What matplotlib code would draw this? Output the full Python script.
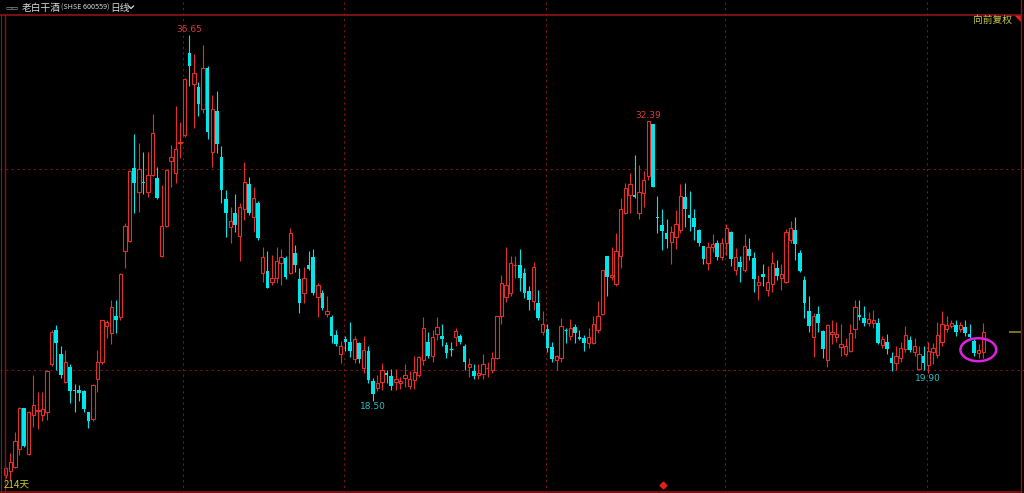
import matplotlib
matplotlib.use("Agg")
import matplotlib.pyplot as plt
from matplotlib.patches import Ellipse, Polygon
from matplotlib.lines import Line2D

plt.rcParams['font.family'] = ['Noto Sans CJK SC', 'DejaVu Sans']

# daily candles, 214 days (open, high, low, close)
opens = [14.81, 15.03, 15.22, 16.11, 18.12, 15.85, 17.77, 18.00, 17.77, 17.95,
         20.31, 22.00, 20.82, 19.41, 20.19, 19.05, 19.03, 19.00, 17.92, 17.58,
         19.56, 20.42, 22.21, 21.84, 22.72, 22.64, 25.94, 26.44, 30.05, 28.84,
         29.35, 28.84, 29.70, 29.55, 25.70, 27.18, 30.41, 29.82, 31.28, 31.67,
         35.74, 34.20, 34.05, 32.99, 35.03, 30.83, 32.88, 30.61, 28.50, 27.11,
         27.83, 26.67, 28.00, 29.24, 27.60, 28.33, 24.85, 24.95, 24.38, 24.58,
         25.35, 25.57, 24.85, 25.85, 24.52, 23.83, 25.24, 25.62, 23.66, 23.86,
         22.80, 22.67, 21.76, 20.82, 21.55, 21.43, 20.56, 21.35, 20.11, 20.98,
         19.49, 19.11, 19.44, 19.86, 19.73, 19.44, 19.36, 19.65, 19.23, 19.53,
         19.78, 20.52, 21.43, 20.72, 21.80, 21.71, 21.26, 21.07, 21.65, 21.73,
         21.22, 20.19, 19.97, 19.78, 19.83, 20.12, 20.02, 20.60, 22.70, 23.63,
         23.83, 25.22, 25.24, 24.83, 23.96, 23.45, 23.33, 21.92, 22.04, 21.15,
         20.52, 20.60, 21.99, 21.71, 22.14, 21.65, 21.60, 21.38, 21.38, 22.00,
         22.80, 25.69, 24.62, 24.28, 25.70, 27.80, 28.71, 28.71, 27.80, 28.79,
         29.65, 32.23, 27.62, 27.22, 26.84, 26.39, 26.64, 26.98, 28.60, 27.72,
         27.56, 26.97, 26.18, 25.32, 26.11, 26.31, 25.62, 26.31, 26.86, 24.99,
         25.40, 24.99, 26.01, 25.57, 24.24, 24.77, 23.99, 24.28, 25.07, 24.58,
         24.40, 26.47, 26.97, 25.85, 24.49, 22.97, 21.68, 22.80, 21.97, 20.52,
         21.80, 21.68, 21.18, 20.82, 20.98, 22.04, 22.75, 22.59, 22.34, 22.34,
         22.37, 21.26, 21.43, 20.60, 20.35, 20.60, 21.05, 21.51, 20.93, 20.06,
         20.72, 20.27, 20.93, 20.77, 21.43, 22.04, 22.21, 22.26, 22.04, 22.14,
         21.80, 21.48, 20.89, 20.93]
highs = [15.22, 15.89, 16.96, 18.20, 18.15, 17.97, 19.77, 18.95, 18.95, 20.00,
         22.00, 22.25, 21.22, 21.00, 20.30, 19.33, 19.27, 19.05, 17.92, 19.35,
         21.02, 22.52, 22.50, 23.50, 23.50, 24.83, 27.34, 29.95, 31.72, 31.27,
         30.84, 30.84, 32.73, 30.10, 29.20, 29.98, 31.19, 33.12, 32.35, 34.50,
         36.65, 35.71, 34.33, 36.15, 35.10, 33.67, 33.87, 31.14, 28.95, 28.10,
         28.76, 28.33, 30.36, 29.60, 29.12, 28.40, 26.11, 25.94, 25.73, 26.11,
         26.01, 25.68, 27.05, 26.25, 25.07, 25.12, 25.91, 26.01, 24.36, 24.00,
         23.70, 22.75, 22.00, 21.48, 21.70, 22.39, 21.70, 21.40, 21.71, 21.20,
         19.64, 19.76, 20.36, 20.00, 20.06, 20.06, 19.70, 20.32, 19.95, 20.72,
         20.70, 22.64, 21.90, 22.00, 22.64, 22.30, 21.40, 21.40, 22.10, 21.80,
         21.30, 20.60, 20.30, 20.30, 20.80, 20.40, 20.90, 22.72, 24.74, 26.14,
         25.70, 25.70, 26.01, 25.10, 24.20, 25.40, 24.00, 22.97, 22.30, 21.40,
         20.75, 22.59, 22.10, 22.56, 22.30, 22.00, 21.75, 22.12, 22.70, 23.45,
         25.00, 25.70, 26.11, 26.84, 28.55, 29.30, 29.82, 30.70, 30.20, 29.90,
         32.39, 32.25, 28.66, 28.00, 27.50, 27.17, 27.97, 29.28, 29.30, 28.90,
         28.00, 27.00, 26.20, 26.40, 26.77, 26.50, 26.57, 27.27, 26.90, 26.06,
         25.70, 26.77, 26.60, 25.90, 24.75, 25.30, 25.20, 25.90, 25.50, 25.30,
         27.00, 27.43, 27.60, 26.00, 24.70, 23.70, 22.84, 23.20, 22.00, 22.30,
         22.50, 22.40, 22.30, 21.60, 22.30, 23.50, 23.50, 23.20, 22.90, 23.00,
         22.60, 21.70, 21.80, 20.90, 21.20, 21.40, 22.20, 21.70, 21.60, 21.20,
         21.20, 21.43, 21.35, 22.42, 22.97, 22.70, 22.50, 22.50, 22.40, 22.50,
         22.30, 21.55, 21.30, 22.35]
lows = [14.65, 14.56, 15.14, 15.80, 16.20, 15.80, 17.21, 17.10, 17.48, 17.53,
        20.20, 20.02, 19.63, 19.38, 18.40, 17.95, 18.50, 17.95, 17.13, 17.50,
        18.93, 20.30, 21.60, 21.30, 21.84, 22.50, 25.07, 26.40, 27.80, 27.88,
        28.76, 28.60, 29.65, 28.50, 25.65, 27.10, 29.12, 29.32, 30.53, 31.60,
        34.12, 32.02, 32.63, 32.80, 31.50, 30.10, 30.78, 28.30, 26.64, 26.31,
        26.89, 25.45, 27.47, 27.70, 26.89, 26.50, 24.41, 24.10, 24.24, 24.33,
        24.24, 24.56, 24.80, 24.90, 22.87, 23.37, 25.00, 23.73, 22.67, 23.00,
        22.67, 21.37, 21.20, 20.36, 20.96, 20.69, 20.36, 20.36, 19.86, 19.40,
        18.50, 18.98, 19.03, 19.40, 19.05, 19.03, 19.10, 19.20, 19.07, 19.06,
        19.70, 20.27, 20.60, 20.40, 21.51, 21.20, 20.60, 20.70, 21.20, 21.30,
        20.00, 19.70, 19.60, 19.60, 19.60, 19.70, 19.90, 20.55, 22.31, 23.42,
        23.70, 24.60, 23.96, 23.60, 23.00, 23.00, 22.50, 21.76, 20.90, 20.40,
        20.00, 20.44, 21.35, 21.50, 21.35, 21.50, 20.96, 21.10, 21.30, 21.87,
        22.75, 23.70, 24.49, 24.20, 25.07, 27.75, 27.80, 28.55, 27.50, 28.10,
        29.46, 29.10, 26.84, 26.00, 26.10, 25.29, 26.02, 26.80, 27.10, 26.90,
        26.50, 26.20, 25.30, 24.97, 25.90, 25.50, 25.50, 25.73, 25.20, 24.74,
        24.40, 24.90, 25.50, 23.90, 23.50, 24.20, 23.70, 23.90, 24.50, 24.00,
        24.35, 26.31, 25.50, 24.90, 22.59, 21.90, 20.69, 21.90, 20.60, 20.15,
        21.30, 21.40, 20.70, 20.70, 20.90, 21.60, 22.50, 22.20, 22.20, 22.10,
        21.30, 21.10, 20.80, 19.95, 20.00, 20.40, 20.90, 20.90, 20.70, 20.00,
        20.00, 19.90, 20.30, 20.60, 21.20, 21.90, 22.10, 21.70, 21.90, 21.70,
        21.60, 20.70, 20.60, 20.60]
closes = [15.14, 15.44, 16.48, 18.15, 16.27, 17.95, 18.27, 18.05, 18.07, 19.97,
          21.92, 21.38, 19.79, 20.42, 19.00, 19.00, 18.90, 18.07, 17.51, 19.30,
          20.42, 22.50, 22.39, 23.14, 22.50, 24.79, 27.17, 29.92, 29.29, 29.98,
          29.30, 29.72, 31.77, 28.55, 27.17, 29.95, 30.58, 30.98, 31.33, 34.47,
          35.11, 34.75, 33.23, 35.00, 31.82, 32.96, 31.24, 28.94, 27.83, 27.40,
          27.22, 28.13, 29.34, 27.83, 28.55, 26.56, 25.62, 24.11, 24.60, 25.45,
          25.62, 24.63, 26.81, 25.24, 23.37, 24.60, 25.04, 23.83, 24.24, 23.08,
          22.97, 21.73, 21.30, 21.22, 21.43, 20.97, 21.55, 20.56, 21.02, 19.51,
          18.82, 19.39, 20.02, 19.77, 19.23, 19.56, 19.48, 19.78, 19.56, 19.91,
          20.65, 22.09, 20.72, 21.65, 22.14, 21.55, 20.85, 21.03, 21.96, 21.40,
          20.44, 20.32, 19.73, 19.86, 20.31, 20.16, 20.60, 22.70, 24.33, 24.24,
          25.32, 25.26, 24.58, 23.83, 23.50, 25.12, 22.59, 22.31, 21.10, 20.56,
          20.72, 22.22, 21.95, 22.09, 21.84, 21.55, 21.38, 21.65, 22.31, 22.70,
          24.99, 24.66, 24.74, 25.94, 28.00, 29.08, 29.24, 28.60, 28.84, 29.46,
          32.38, 29.12, 27.58, 26.93, 26.51, 26.86, 27.27, 28.68, 28.00, 27.58,
          27.14, 26.31, 25.51, 26.11, 26.26, 25.62, 26.31, 27.06, 25.53, 25.62,
          25.15, 26.18, 25.68, 24.52, 24.40, 24.62, 24.40, 25.35, 24.69, 24.77,
          26.89, 27.06, 26.27, 24.95, 23.33, 22.21, 22.70, 22.34, 21.05, 22.26,
          21.92, 21.80, 21.31, 21.22, 21.84, 23.14, 22.67, 22.34, 22.54, 22.50,
          21.35, 21.55, 21.05, 20.35, 20.72, 21.10, 21.76, 21.02, 21.22, 20.82,
          20.39, 20.98, 21.10, 21.76, 22.31, 22.26, 22.34, 21.92, 22.26, 21.84,
          21.65, 20.85, 21.02, 21.92]

# marked extremes: (candle index, kind)
marks = [(40, "high"), (140, "high"), (80, "low"), (201, "low")]
vgrid = [38.6, 73.7, 117.7, 156.7, 200.7]
hgrid = [20, 30]

UP = "#e0302c"
DOWN = "#00e6ea"
GRID = "#7a1414"
W, H = 1024, 493

fig = plt.figure(figsize=(W / 100, H / 100), dpi=100, facecolor="black")
ax = fig.add_axes([0, 0, 1, 1])
ax.set_facecolor("black")
ax.set_xlim(-1.24, 221.85)
ax.set_ylim(13.92, 38.387)
ax.axis("off")

for g in hgrid:
    ax.axhline(g, color=GRID, lw=0.8, ls=(0, (2, 3)), zorder=0)
for g in vgrid:
    ax.axvline(g, color=GRID, lw=0.8, ls=(0, (2, 3)), zorder=0)

n = len(opens)
for i in range(n):
    o, h, l, c = opens[i], highs[i], lows[i], closes[i]
    up = c >= o
    col = UP if up else DOWN
    ax.vlines(i, l, h, color=col, lw=0.8, zorder=1)
    lo, hi = min(o, c), max(o, c)
    if hi - lo < 0.04:
        ax.hlines(o, i - 0.38, i + 0.38, color=col, lw=1.0, zorder=2)
    elif up:
        ax.bar(i, hi - lo, bottom=lo, width=0.74, facecolor="black",
               edgecolor=col, linewidth=0.8, zorder=2)
    else:
        ax.bar(i, hi - lo, bottom=lo, width=0.78, color=col,
               linewidth=0, zorder=2)

for idx, kind in marks:
    if kind == "high":
        ax.annotate(f"{highs[idx]:.2f}", (idx, highs[idx]), xytext=(0, 0.5),
                    textcoords="offset points", ha="center", va="bottom",
                    color="#d83a3a", fontsize=6.5, family="DejaVu Sans")
    else:
        ax.annotate(f"{lows[idx]:.2f}", (idx, lows[idx]), xytext=(0, -1),
                    textcoords="offset points", ha="center", va="top",
                    color="#2cc0c4", fontsize=6.5, family="DejaVu Sans")

# current price tick on the right edge
ax.hlines(closes[-1], 218.6, 221.3, color="#8a8a20", lw=1.2)

# magenta circle on the last days
ax.add_patch(Ellipse((211.9, 21.03), 7.8, 1.14, fill=False,
                     edgecolor="#e020e0", lw=1.8, zorder=5))

# frame
def fl(xs, ys, color, lw=1.0):
    fig.add_artist(Line2D([x / W for x in xs], [1 - y / H for y in ys],
                          color=color, lw=lw, transform=fig.transFigure))

fl([0, 1021], [14.5, 14.5], "#8c1414", 1.2)
fl([0, 1021], [491.5, 491.5], "#8c1414", 1.2)
fl([4.5, 4.5], [14.5, 491.5], "#8c1414", 1.0)
fl([1.0, 1.0], [14.5, 491.5], "#3a3a3a", 0.8)
fl([1021, 1021], [0, 493], "#8c1414", 1.0)
fig.add_artist(Polygon([[1014 / W, 1 - 14.5 / H], [1021 / W, 1 - 14.5 / H],
                        [1021 / W, 1 - 21.5 / H]], closed=True,
                       facecolor="#e02020", edgecolor="none",
                       transform=fig.transFigure))

# header
fig.text(5 / W, 1 - 7.5 / H, "▭▭", color="#a0a0a0", fontsize=5, va="center",
         family=["DejaVu Sans"])
fig.text(22 / W, 1 - 7.5 / H, "老白干酒", color="#d8d8d8",
         fontsize=7, va="center")
fig.text(61 / W, 1 - 7.5 / H, "(SHSE 600559)", color="#d8d8d8",
         fontsize=5.2, va="center")
fig.text(110 / W, 1 - 7.5 / H, "日线", color="#d8d8d8", fontsize=7, va="center")
# dropdown chevron
fl([128.5, 131, 133.5], [6, 8.5, 6], "#d8d8d8", 0.9)
fig.text(1012 / W, 1 - 19.5 / H, "向前复权", color="#c8c848", fontsize=7,
         va="center", ha="right")
fig.text(4 / W, 1 - 485 / H, "214天", color="#c8c828", fontsize=7, va="center")
fig.add_artist(Line2D([662.5 / W], [1 - 484.5 / H], marker="D", ms=3.5,
                      color="#e02020", transform=fig.transFigure))

fig.savefig("out.png", dpi=100, facecolor="black")
